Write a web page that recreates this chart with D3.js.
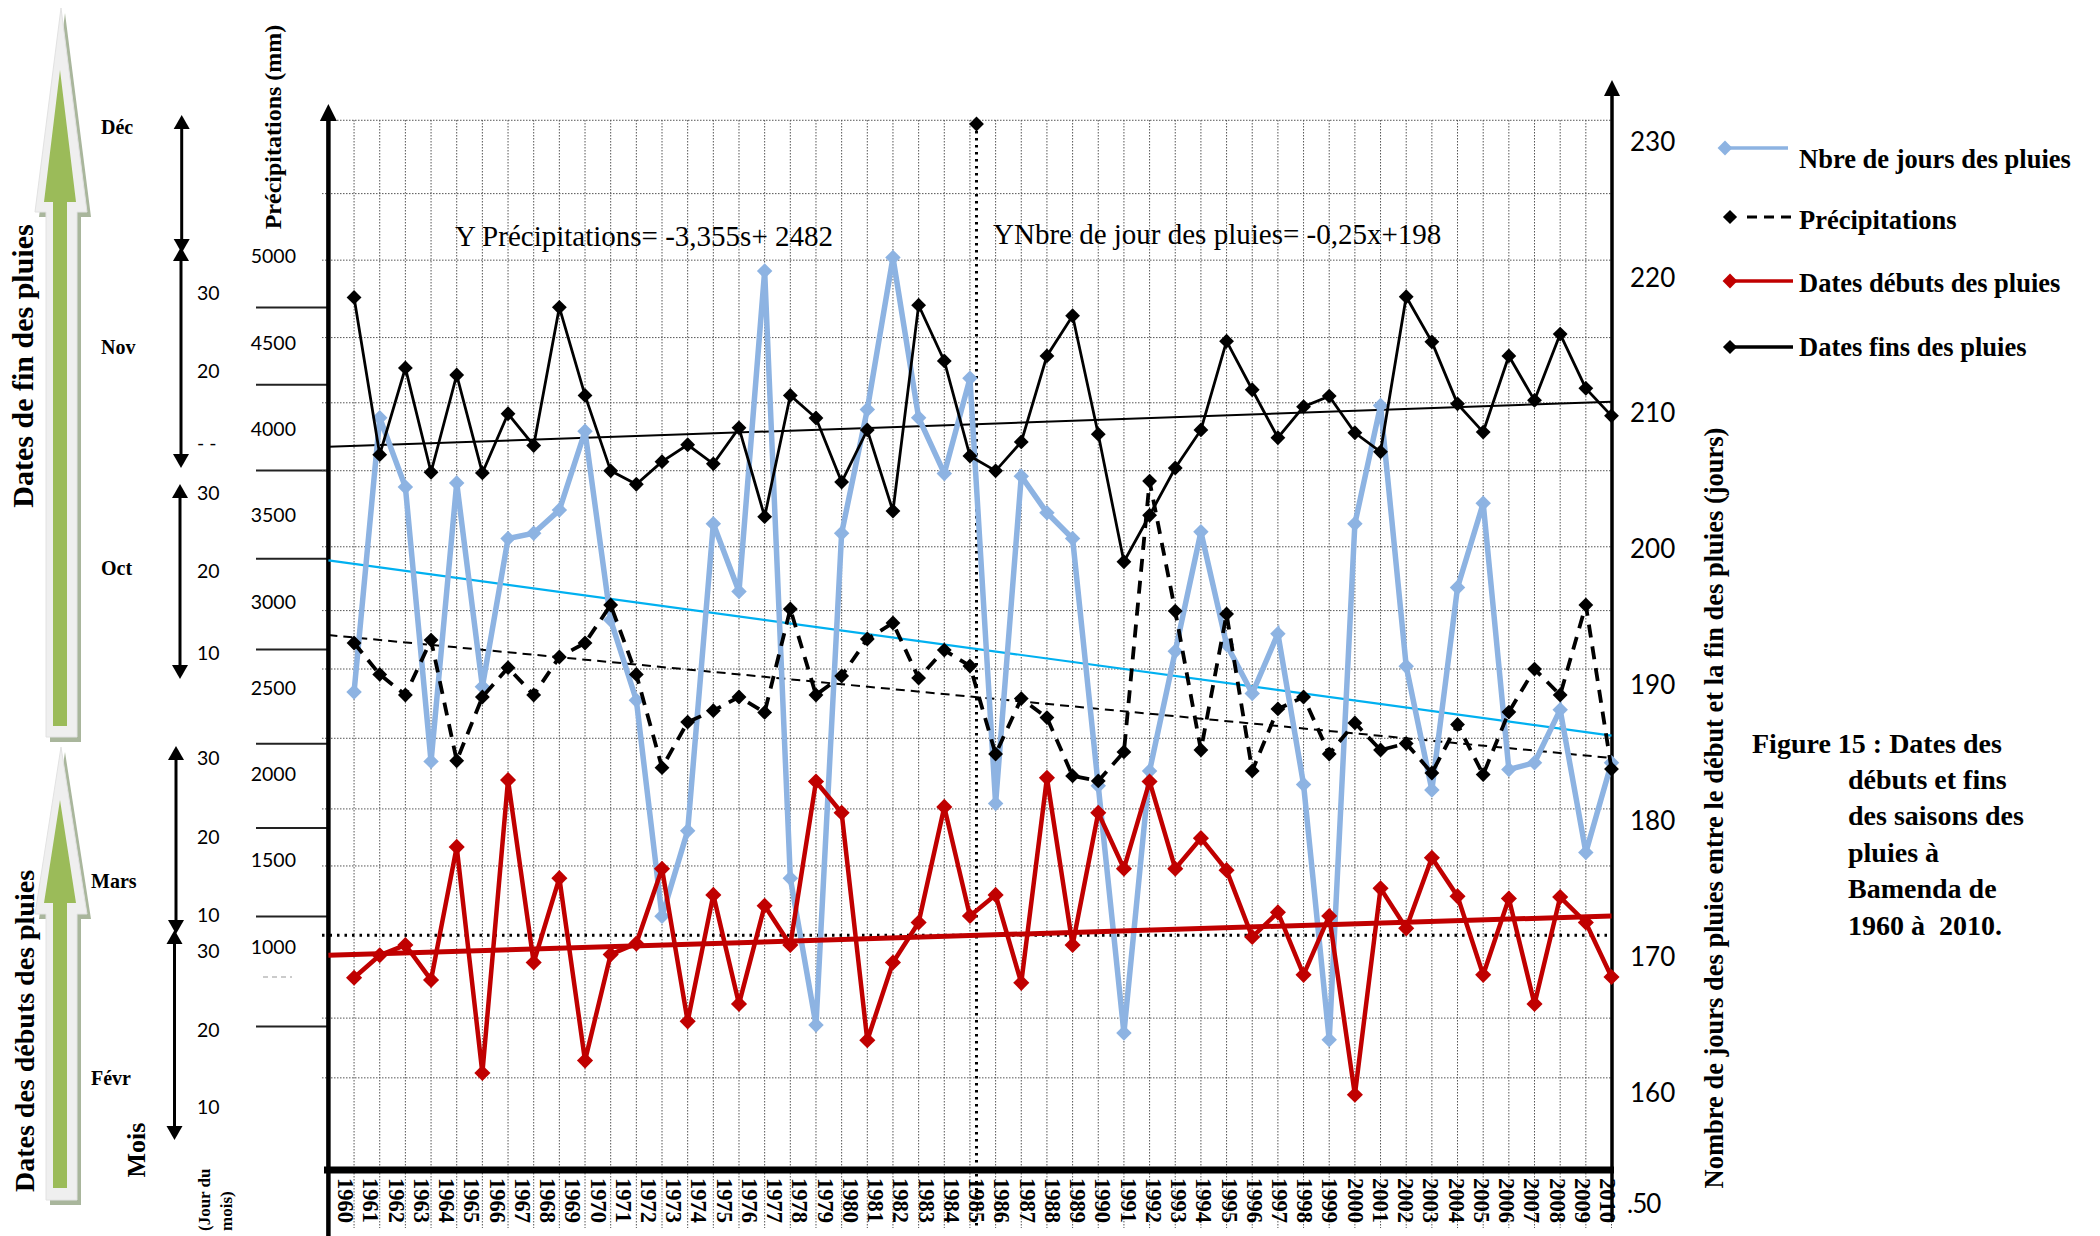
<!DOCTYPE html>
<html><head><meta charset="utf-8">
<script src="https://cdn.jsdelivr.net/npm/d3@7"></script>
<style>html,body{margin:0;padding:0;background:#fff;} svg{display:block}</style>
</head><body><svg id="c" width="2100" height="1236"></svg>
<script>
// ---------------- DATA ----------------
const yearLabels = [1960,1961,1962,1963,1964,1965,1966,1967,1968,1969,1970,1971,1972,1973,1974,1975,1976,1977,1978,1979,1980,1981,1982,1983,1984,1985,1986,1987,1988,1989,1990,1991,1992,1993,1994,1995,1996,1997,1998,1999,2000,2001,2002,2003,2004,2005,2006,2007,2008,2009,2010];
// Nombre de jours des pluies (jours) – right axis
const nbJours = [189.5,209.7,204.6,184.4,204.9,189.9,200.8,201.2,202.9,208.7,194.8,188.9,173.0,179.3,201.9,196.9,220.5,175.8,165.0,201.2,210.3,221.5,209.7,205.6,212.6,181.3,205.4,202.7,200.8,182.6,164.4,183.7,192.5,201.3,193.0,189.4,193.8,182.7,163.9,201.9,210.6,191.4,182.3,197.2,203.4,183.8,184.3,188.2,177.7,184.3];
// Précipitations (mm) – left axis
const precipitations = [2761,2579,2460,2778,2079,2448,2618,2460,2680,2761,2981,2579,2039,2303,2369,2448,2359,2958,2460,2570,2784,2877,2558,2720,2628,2118,2439,2329,1991,1962,2130,3699,2946,2141,2929,2020,2379,2448,2118,2298,2141,2179,2008,2289,1999,2361,2610,2460,2981,2031];
// Dates débuts des pluies (jour de l'année)
const debuts = [58.7,61.8,63.2,58.4,76.7,45.6,85.9,60.8,72.4,47.3,61.9,63.4,73.7,52.7,70.1,55.1,68.6,63.2,85.7,81.4,50.1,60.8,66.3,82.2,67.2,70.1,58.0,86.2,63.2,81.4,73.7,85.7,73.7,77.9,73.5,64.3,67.7,59.1,67.2,42.6,71.0,65.5,75.2,69.9,59.1,69.6,55.1,69.8,66.3,58.8];
// Dates fins des pluies (jour de l'année)
const fins = [333.3,311.0,323.3,308.5,322.3,308.4,316.8,312.3,331.9,319.4,308.7,306.8,310.0,312.4,309.7,314.8,302.2,319.4,316.2,307.1,314.5,303.0,332.2,324.3,310.8,308.7,312.8,325.0,330.7,313.9,295.8,302.4,309.1,314.5,327.1,320.2,313.4,317.8,319.3,314.1,311.4,333.4,327.0,318.2,314.2,325.0,318.7,328.1,320.4,316.5];
// trend lines (start, end)
const trendNbJours = [199.2, 186.3];
const trendPrecip = [2807, 2095];
const trendDebuts = [61.8, 67.2];
const trendFins = [312.1, 318.5];
// ticks
const rightTicks = [230,220,210,200,190,180,170,160];
const precipTicks = [5000,4500,4000,3500,3000,2500,2000,1500,1000];
const gridDays = [231.6,226.2,221.3,215.6,210.8,205.8,200.2,195.5,191.2,186.1,180.9,176.7,165.5,161.1];
const refLineDays = 171.6;
const refYear = 1985;

const legendItems = ["Nbre de jours des pluies","Précipitations","Dates débuts des pluies","Dates fins des pluies"];
const captionLines = ["Figure 15 : Dates des","débuts et fins","des saisons des","pluies à","Bamenda de","1960 à  2010."];

// ---------------- SETUP ----------------
const SERIF = "'Liberation Serif','Times New Roman',serif";
const SANS = "Lato,'Open Sans',sans-serif";
const BLUE = "#8db3e2", RED = "#c00000", CYAN = "#00b0f0";
const svg = d3.select("#c");
const L = 328.4, R = 1611.5, TOP = 120, AXY = 1170;

const xData = d3.scaleLinear().domain([-1, nbJours.length - 1]).range([L, R]);
const xYear = d3.scalePoint().domain(yearLabels).range([345.5, 1607.5]);
const yDays = d3.scaleLinear().domain([160, 230]).range([1092.8, 142]);
const yPrecip = d3.scaleLinear().domain([1000, 5000]).range([947, 256.5]);
const yFin = d3.scaleLinear().domain([283, 334]).range([652, 292.5]);
const yDebut = d3.scaleLinear().domain([41, 89]).range([1106.4, 757.5]);

// ---------------- GREEN ARROWS ----------------
function bigArrow(o, i) {
  const outer = [[o.cx, o.tip], [o.cx + 26, o.base], [o.cx + 16, o.base], [o.cx + 16, o.bottom], [o.cx - 15, o.bottom], [o.cx - 15, o.base], [o.cx - 26, o.base]];
  const inner = [[i.cx, i.tip], [i.cx + 16, i.base], [i.cx + 7, i.base], [i.cx + 7, i.bottom], [i.cx - 7, i.bottom], [i.cx - 7, i.base], [i.cx - 16, i.base]];
  const line = d3.line();
  svg.append("path").attr("d", line(outer.map(p => [p[0] + 4, p[1] + 5])) + "Z").attr("fill", "#a9b69c");
  svg.append("path").attr("d", line(outer) + "Z").attr("fill", "#efefef").attr("stroke", "#e2e2e2").attr("stroke-width", 1);
  svg.append("path").attr("d", line(inner) + "Z").attr("fill", "#9bbb59");
}
bigArrow({cx: 61, tip: 8, base: 212, bottom: 737}, {cx: 60, tip: 70, base: 202, bottom: 726});
bigArrow({cx: 61, tip: 747, base: 914, bottom: 1200}, {cx: 60, tip: 800, base: 903, bottom: 1188});

function vText(x, y, txt, size, weight, family, anchor) {
  return svg.append("text").attr("transform", `translate(${x},${y}) rotate(-90)`)
    .attr("text-anchor", anchor || "middle").attr("dominant-baseline", "central")
    .style("font-family", family || SERIF).style("font-size", size + "px").style("font-weight", weight || "bold")
    .text(txt);
}
vText(22, 366, "Dates de fin des pluies", 30);
vText(24, 1031, "Dates des débuts des pluies", 28);
vText(136, 1150, "Mois", 26);
vText(204, 1231, "(Jour du", 17, "bold", SERIF, "start");
vText(226, 1231, "mois)", 17, "bold", SERIF, "start");
vText(273, 127, "Précipitations (mm)", 24);
vText(1714, 808, "Nombre de jours des pluies entre le début et la fin des pluies (jours)", 26.5);

// month labels
const months = [["Déc", 101, 127], ["Nov", 101, 347], ["Oct", 101, 568], ["Mars", 91, 881], ["Févr", 91, 1078]];
svg.selectAll(".month").data(months).join("text").attr("x", d => d[1]).attr("y", d => d[2])
  .attr("dominant-baseline", "central").style("font-family", SERIF).style("font-size", "20px").style("font-weight", "bold").text(d => d[0]);

// day labels
const dayLabels = [["30", 292.5], ["20", 370], ["- -", 442], ["30", 492.5], ["20", 570.5], ["10", 652], ["30", 757.5], ["20", 836], ["10", 914.7], ["30", 950], ["20", 1029.4], ["10", 1106.4]];
svg.selectAll(".day").data(dayLabels).join("text").attr("x", 197).attr("y", d => d[1])
  .attr("dominant-baseline", "central").style("font-family", SANS).style("font-size", "19.5px").text(d => d[0]);

// small double arrows
const smallArrows = [[181.7, 115, 253], [181, 247, 468], [180, 484, 679], [176, 746, 934], [174.5, 930, 1140]];
smallArrows.forEach(([x, t, b]) => {
  svg.append("line").attr("x1", x).attr("x2", x).attr("y1", t + 10).attr("y2", b - 10).attr("stroke", "#000").attr("stroke-width", 3);
  svg.append("path").attr("d", `M${x},${t}L${x + 8},${t + 14}L${x - 8},${t + 14}Z`).attr("fill", "#000");
  svg.append("path").attr("d", `M${x},${b}L${x + 8},${b - 14}L${x - 8},${b - 14}Z`).attr("fill", "#000");
});

// short tick separators left of axis
[307.6, 384.7, 470.5, 558.7, 649.5, 743.8, 828, 916.6, 1026.6].forEach(y => {
  svg.append("line").attr("x1", 256).attr("x2", L).attr("y1", y).attr("y2", y).attr("stroke", "#222").attr("stroke-width", 2);
});
svg.append("line").attr("x1", 263).attr("x2", 292).attr("y1", 977).attr("y2", 977).attr("stroke", "#bbb").attr("stroke-width", 1.5).attr("stroke-dasharray", "5,4");

// ---------------- GRID ----------------
const grid = svg.append("g");
grid.selectAll(".vg").data(d3.range(nbJours.length)).join("line")
  .attr("x1", d => xData(d)).attr("x2", d => xData(d)).attr("y1", TOP).attr("y2", 1228)
  .attr("stroke", "#555").attr("stroke-width", 1).attr("stroke-dasharray", "1.5,1.5");
grid.selectAll(".hg").data(gridDays).join("line")
  .attr("x1", 322).attr("x2", R).attr("y1", d => yDays(d)).attr("y2", d => yDays(d))
  .attr("stroke", "#555").attr("stroke-width", 1).attr("stroke-dasharray", "1.5,1.5");

// reference dotted lines
svg.append("line").attr("x1", 322).attr("x2", R).attr("y1", yDays(refLineDays)).attr("y2", yDays(refLineDays))
  .attr("stroke", "#000").attr("stroke-width", 3).attr("stroke-dasharray", "2.5,5");
svg.append("line").attr("x1", xYear(refYear)).attr("x2", xYear(refYear)).attr("y1", 124).attr("y2", 1226)
  .attr("stroke", "#000").attr("stroke-width", 3).attr("stroke-dasharray", "2.5,4.5");
svg.append("path").attr("d", d3.symbol(d3.symbolSquare, 110)()).attr("transform", `translate(${xYear(refYear)},124) rotate(45)`).attr("fill", "#000");

// ---------------- AXES ----------------
// x axis year labels
const xAxis = svg.append("g").attr("transform", `translate(0,${AXY})`)
  .call(d3.axisBottom(xYear).tickSize(0).tickPadding(0));
xAxis.select(".domain").remove();
xAxis.selectAll("text").attr("transform", "rotate(90)").attr("x", 8).attr("y", 0).attr("dy", "0.35em")
  .style("text-anchor", "start").style("font-family", SERIF).style("font-size", "22.5px").style("font-weight", "bold").attr("fill", "#000");

// right axis
const rAxis = svg.append("g").attr("transform", `translate(1612,0)`)
  .call(d3.axisRight(yDays).tickValues(rightTicks).tickSize(0).tickPadding(18));
rAxis.select(".domain").remove();
rAxis.selectAll("text").style("font-family", SANS).style("font-size", "26px").attr("fill", "#000");
svg.append("text").attr("x", 1627).attr("y", 1203).attr("dominant-baseline", "central")
  .style("font-family", SANS).style("font-size", "26px").style("letter-spacing", "-1px").text(".50");

// left precipitation labels
const lAxis = svg.append("g").attr("transform", `translate(300,0)`)
  .call(d3.axisLeft(yPrecip).tickValues(precipTicks).tickSize(0).tickPadding(4).tickFormat(d3.format("d")));
lAxis.select(".domain").remove();
lAxis.selectAll("text").style("font-family", SANS).style("font-size", "19.5px").attr("fill", "#000");

// axis lines
svg.append("line").attr("x1", L).attr("x2", L).attr("y1", 114).attr("y2", 1236).attr("stroke", "#000").attr("stroke-width", 4.5);
svg.append("path").attr("d", `M${L},104L${L + 8.5},121L${L - 8.5},121Z`).attr("fill", "#000");
svg.append("line").attr("x1", 1612).attr("x2", 1612).attr("y1", 92).attr("y2", 1222).attr("stroke", "#000").attr("stroke-width", 3.5);
svg.append("path").attr("d", `M1612,80L1620,96L1604,96Z`).attr("fill", "#000");
svg.append("line").attr("x1", 324).attr("x2", 1614).attr("y1", AXY).attr("y2", AXY).attr("stroke", "#000").attr("stroke-width", 7);

// ---------------- TREND LINES ----------------
const trendX = [-1, nbJours.length - 1];
function trend(vals, yS, color, w, dash) {
  svg.append("line").attr("x1", xData(trendX[0])).attr("x2", xData(trendX[1]))
    .attr("y1", yS(vals[0])).attr("y2", yS(vals[1]))
    .attr("stroke", color).attr("stroke-width", w).attr("stroke-dasharray", dash || null);
}
trend(trendNbJours, yDays, CYAN, 2.2);
trend(trendPrecip, yPrecip, "#000", 2, "9,6");
trend(trendFins, yFin, "#000", 2);

// ---------------- SERIES ----------------
function series(vals, yS, color, w, dash, msize) {
  const ln = d3.line().x((d, i) => xData(i)).y(d => yS(d));
  svg.append("path").datum(vals).attr("d", ln).attr("fill", "none").attr("stroke", color)
    .attr("stroke-width", w).attr("stroke-linejoin", "miter").attr("stroke-dasharray", dash || null);
  svg.append("g").selectAll("path").data(vals).join("path")
    .attr("d", d3.symbol(d3.symbolSquare, msize)())
    .attr("transform", (d, i) => `translate(${xData(i)},${yS(d)}) rotate(45)`)
    .attr("fill", color);
}
series(nbJours, yDays, BLUE, 5.5, null, 120);
series(precipitations, yPrecip, "#000", 3.8, "13,9", 110);
series(fins, yFin, "#000", 2.8, null, 110);
trend(trendDebuts, yDebut, RED, 5);
series(debuts, yDebut, RED, 4.5, null, 130);

// ---------------- EQUATIONS ----------------
svg.append("text").attr("x", 455).attr("y", 246).style("font-family", SERIF).style("font-size", "29px")
  .text("Y Précipitations= -3,355s+ 2482");
svg.append("text").attr("x", 993).attr("y", 244).style("font-family", SERIF).style("font-size", "29px")
  .text("YNbre de jour des pluies= -0,25x+198");

// ---------------- LEGEND ----------------
const lg = svg.append("g");
const sym = (x, y, c, s) => lg.append("path").attr("d", d3.symbol(d3.symbolSquare, s)()).attr("transform", `translate(${x},${y}) rotate(45)`).attr("fill", c);
lg.append("line").attr("x1", 1722).attr("x2", 1788).attr("y1", 148).attr("y2", 148).attr("stroke", BLUE).attr("stroke-width", 3.5);
sym(1725, 148, BLUE, 110);
lg.append("line").attr("x1", 1747).attr("x2", 1793).attr("y1", 217).attr("y2", 217).attr("stroke", "#000").attr("stroke-width", 3).attr("stroke-dasharray", "10,7");
sym(1730, 217, "#000", 100);
lg.append("line").attr("x1", 1732).attr("x2", 1793).attr("y1", 281).attr("y2", 281).attr("stroke", RED).attr("stroke-width", 3.5);
sym(1730, 281, RED, 110);
lg.append("line").attr("x1", 1732).attr("x2", 1793).attr("y1", 347).attr("y2", 347).attr("stroke", "#000").attr("stroke-width", 3.5);
sym(1730, 347, "#000", 100);
const legY = [168, 229, 292, 356];
lg.selectAll(".lt").data(legendItems).join("text").attr("x", 1799).attr("y", (d, i) => legY[i])
  .style("font-family", SERIF).style("font-size", "26.5px").style("font-weight", "bold").text(d => d);

// ---------------- CAPTION ----------------
const capX = [1752, 1848, 1848, 1848, 1848, 1848];
const capY = [753, 789, 825, 862, 898, 935];
svg.selectAll(".cap").data(captionLines).join("text").attr("x", (d, i) => capX[i]).attr("y", (d, i) => capY[i])
  .attr("xml:space", "preserve").style("white-space", "pre")
  .style("font-family", SERIF).style("font-size", "28px").style("font-weight", "bold").text(d => d);
</script></body></html>
